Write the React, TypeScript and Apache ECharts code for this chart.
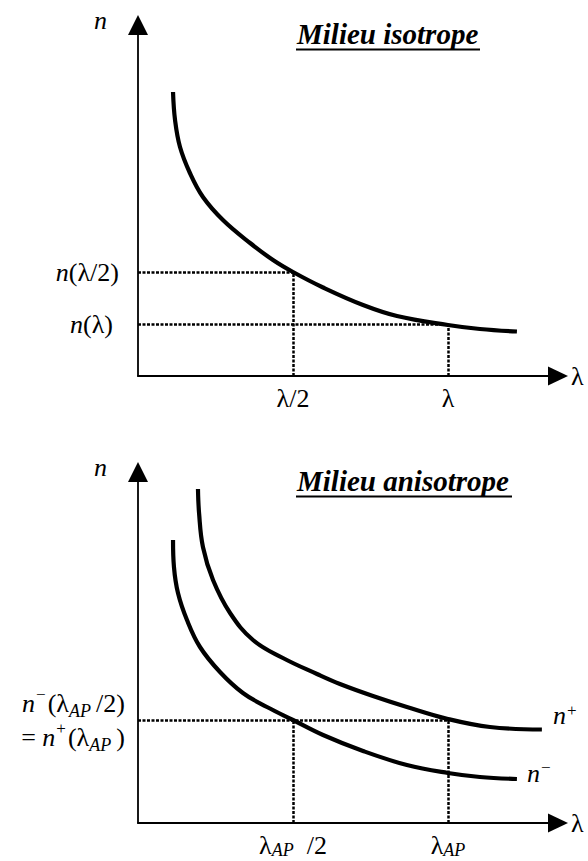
import React, { useEffect, useRef } from "react";
import * as echarts from "echarts";

// Abscissa unit: λ/2 = 1 (so λ = 2). Ordinate: arbitrary index units.
const X_MAX = 2.71;
const Y_MAX = 3.51;

// Milieu isotrope: n(λ)
const isotropeCurve: [number, number][] = [
  [0.226, 2.84], [0.239, 2.56], [0.271, 2.29], [0.335, 2.03], [0.419, 1.79],
  [0.548, 1.56], [0.723, 1.33], [0.871, 1.16], [1.0, 1.04], [1.194, 0.885],
  [1.452, 0.71], [1.671, 0.6], [2.0, 0.51], [2.206, 0.47], [2.445, 0.445],
];
const isoHalfLambda = 1;
const isoLambda = 2;
const isoNHalf = 1.04;
const isoNLambda = 0.52;

// Milieu anisotrope: n− and n+
const nMinusCurve: [number, number][] = [
  [0.226, 2.83], [0.232, 2.56], [0.258, 2.3], [0.316, 2.03], [0.4, 1.76],
  [0.529, 1.51], [0.677, 1.3], [0.832, 1.16], [1.0, 1.03], [1.194, 0.88],
  [1.452, 0.72], [1.735, 0.58], [2.0, 0.5], [2.206, 0.46], [2.445, 0.44],
];
const nPlusCurve: [number, number][] = [
  [0.387, 3.34], [0.394, 3.1], [0.419, 2.76], [0.484, 2.43], [0.594, 2.1],
  [0.742, 1.83], [0.935, 1.65], [1.155, 1.49], [1.303, 1.39], [1.516, 1.27],
  [1.735, 1.16], [2.0, 1.04], [2.271, 0.96], [2.606, 0.935],
];
const apHalf = 1;
const apLambda = 2;
const apN = 1.03;

// Texts
const titles = ["Milieu isotrope", "Milieu anisotrope"];
const isoTickLabels = ["λ/2", "λ"];
const isoIndexLabels = ["{i|n}(λ/2)", "{i|n}(λ)"];
const apTickLabels = ["λ{sub|AP}  /2", "λ{sub|AP}"];
const apIndexLabel = "{i2|n}{sup2|−}(λ{sub2|AP}\u2009/2)\n= {i2|n}{sup2|+}(λ{sub2|AP}\u2009)";
const curveLabels = ["{i|n}{sup|+}", "{i|n}{sup|−}"];

const FONT = "Liberation Serif";
const FS = 26;
const LH = 28;
const LH2 = 34;

const rich = {
  i: { fontStyle: "italic", fontSize: FS, fontFamily: FONT, color: "#000", lineHeight: LH },
  sup: { fontSize: 17, fontFamily: FONT, color: "#000", verticalAlign: "top", lineHeight: 10, padding: [0, 2, 0, 1] },
  sub: { fontSize: 18, fontStyle: "italic", fontFamily: FONT, color: "#000", verticalAlign: "bottom", lineHeight: 12 },
  i2: { fontStyle: "italic", fontSize: FS, fontFamily: FONT, color: "#000", lineHeight: LH2 },
  sup2: { fontSize: 17, fontFamily: FONT, color: "#000", verticalAlign: "top", lineHeight: 16, padding: [0, 2, 0, 1] },
  sub2: { fontSize: 18, fontStyle: "italic", fontFamily: FONT, color: "#000", verticalAlign: "bottom", lineHeight: 18 },
};

const baseLabel = {
  show: true,
  fontFamily: FONT,
  fontSize: FS,
  color: "#000",
  lineHeight: LH,
  rich,
};

const dotted = { type: [3, 1.5], width: 2.5, color: "#000", opacity: 1 };

function hLine(y: number, x: number, text: string | null, distance = 19, lineHeight = LH) {
  return [
    {
      coord: [0, y],
      lineStyle: dotted,
      label: text
        ? {
            ...baseLabel,
            lineHeight,
            position: "start",
            align: "right",
            verticalAlign: "middle",
            distance,
            formatter: () => text,
          }
        : { show: false },
    },
    { coord: [x, y], lineStyle: dotted },
  ];
}
function vLine(x: number, y: number, text: string | null) {
  return [
    {
      coord: [x, 0],
      lineStyle: dotted,
      label: text
        ? { ...baseLabel, position: "start", align: "center", verticalAlign: "top", distance: 8, formatter: () => text }
        : { show: false },
    },
    { coord: [x, y], lineStyle: dotted },
  ];
}

const axisX = (gridIndex: number) => ({
  type: "value",
  gridIndex,
  min: 0,
  max: X_MAX,
  axisLine: {
    show: true,
    onZero: false,
    lineStyle: { color: "#000", width: 1.8 },
    symbol: ["none", "triangle"],
    symbolSize: [19, 20],
  },
  axisTick: { show: false },
  axisLabel: { show: false },
  splitLine: { show: false },
  name: "λ",
  nameLocation: "end",
  nameGap: 13,
  nameTextStyle: { fontFamily: FONT, fontSize: FS, color: "#000", padding: [12, 0, 0, 0] },
});
const axisY = (gridIndex: number) => ({
  type: "value",
  gridIndex,
  min: 0,
  max: Y_MAX,
  axisLine: {
    show: true,
    onZero: false,
    lineStyle: { color: "#000", width: 1.8 },
    symbol: ["none", "triangle"],
    symbolSize: [20, 20],
  },
  axisTick: { show: false },
  axisLabel: { show: false },
  splitLine: { show: false },
  name: "n",
  nameLocation: "end",
  nameGap: 5,
  nameTextStyle: {
    fontFamily: FONT,
    fontSize: FS,
    fontStyle: "italic",
    color: "#000",
    align: "right",
    verticalAlign: "middle",
    padding: [0, 31, 0, 0],
  },
});

const curveStyle = { color: "#000", width: 4.2 };

const markLineBase = {
  silent: true,
  symbol: ["none", "none"],
  lineStyle: dotted,
  emphasis: { disabled: true },
};

const option = {
  animation: false,
  backgroundColor: "#fff",
  grid: [
    { left: 138, top: 25, width: 420, height: 351 },
    { left: 138, top: 472, width: 420, height: 351 },
  ],
  xAxis: [axisX(0), axisX(1)],
  yAxis: [axisY(0), axisY(1)],
  series: [
    {
      type: "line",
      name: "n",
      xAxisIndex: 0,
      yAxisIndex: 0,
      data: isotropeCurve,
      smooth: 0.4,
      showSymbol: false,
      lineStyle: curveStyle,
      markLine: {
        ...markLineBase,
        data: [
          hLine(isoNHalf, isoHalfLambda, isoIndexLabels[0], 19),
          hLine(isoNLambda, isoLambda, isoIndexLabels[1], 25),
          vLine(isoHalfLambda, isoNHalf, isoTickLabels[0]),
          vLine(isoLambda, isoNLambda, isoTickLabels[1]),
        ],
      },
    },
    {
      type: "line",
      name: "n+",
      xAxisIndex: 1,
      yAxisIndex: 1,
      data: nPlusCurve,
      smooth: 0.4,
      showSymbol: false,
      lineStyle: curveStyle,
      endLabel: { ...baseLabel, distance: 11, offset: [0, -14], formatter: () => curveLabels[0] },
    },
    {
      type: "line",
      name: "n-",
      xAxisIndex: 1,
      yAxisIndex: 1,
      data: nMinusCurve,
      smooth: 0.4,
      showSymbol: false,
      lineStyle: curveStyle,
      endLabel: { ...baseLabel, distance: 10, offset: [0, -6], formatter: () => curveLabels[1] },
      markLine: {
        ...markLineBase,
        data: [
          hLine(apN, apLambda, apIndexLabel, 13, LH2),
          vLine(apHalf, apN, apTickLabels[0]),
          vLine(apLambda, apN, apTickLabels[1]),
        ],
      },
    },
  ],
  graphic: [0, 1].flatMap((k) => [
    {
      type: "text",
      x: 297,
      y: 34 + k * 447,
      style: {
        text: titles[k],
        fontFamily: FONT,
        fontSize: 29,
        fontStyle: "italic",
        fontWeight: "bold",
        fill: "#000",
        align: "left",
        verticalAlign: "middle",
      },
    },
    {
      type: "line",
      shape: { x1: 296, y1: 49.5 + k * 447, x2: k === 0 ? 480 : 512, y2: 49.5 + k * 447 },
      style: { stroke: "#000", lineWidth: 2 },
    },
  ]),
};

export default function App() {
  const ref = useRef<HTMLDivElement>(null);
  useEffect(() => {
    const chart = echarts.init(ref.current!, undefined, { renderer: "svg" });
    chart.setOption(option as any);
    return () => chart.dispose();
  }, []);
  return (
    <div
      ref={ref}
      style={{ position: "absolute", left: 0, top: 0, width: 588, height: 861, background: "#fff" }}
    />
  );
}
